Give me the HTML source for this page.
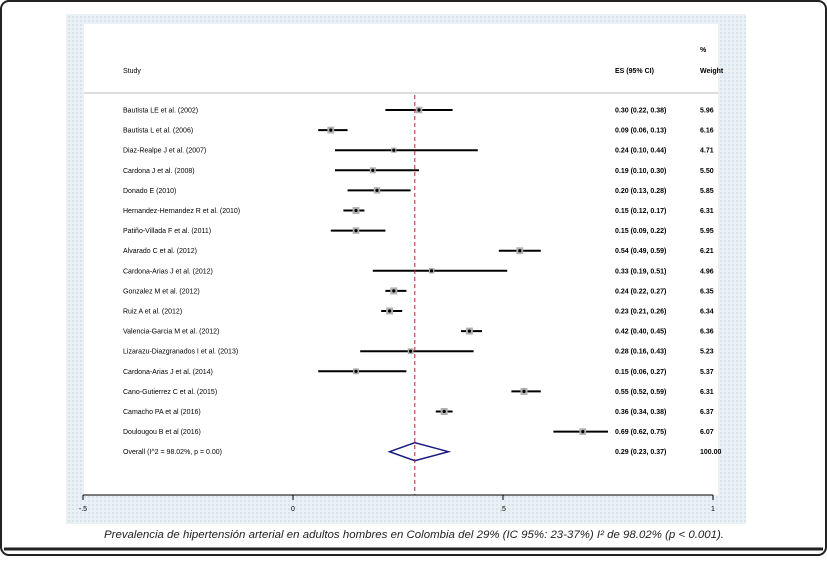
<!DOCTYPE html>
<html><head><meta charset="utf-8"><style>
body{margin:0;width:827px;height:556px;background:#fff;overflow:hidden;font-family:"Liberation Sans",sans-serif}
svg text{font-family:"Liberation Sans",sans-serif}
</style></head><body>
<svg id="chart" width="827" height="556">
<defs><pattern id="dots" width="4" height="4" patternUnits="userSpaceOnUse"><rect width="4" height="4" fill="#eaf1f5"/><rect width="2" height="2" fill="#d8e4ec"/></pattern></defs>
<rect x="1" y="1" width="825" height="554" rx="8" fill="#fff" stroke="#222" stroke-width="2"/>
<rect x="66" y="14" width="680" height="510" fill="url(#dots)"/>
<rect x="84" y="24" width="634" height="471" fill="#fff"/>
<line x1="84" y1="93" x2="718" y2="93" stroke="#bbb" stroke-width="1"/>
<text x="123" y="73" font-size="7">Study</text>
<text x="615" y="73" font-size="7" font-weight="bold">ES (95% CI)</text>
<text x="700" y="52" font-size="7" font-weight="bold">%</text>
<text x="700" y="73" font-size="7" font-weight="bold">Weight</text>
<g id="rows"></g>
<text x="414" y="538" font-size="11" font-style="italic" fill="#222" text-anchor="middle" textLength="620" lengthAdjust="spacingAndGlyphs">Prevalencia de hipertensión arterial en adultos hombres en Colombia del 29% (IC 95%: 23-37%) I² de 98.02% (p &lt; 0.001).</text>
<line x1="4" y1="549" x2="823" y2="549" stroke="#222" stroke-width="3"/>
</svg>
<script>
const studies=["Bautista LE et al. (2002)","Bautista L et al. (2006)","Diaz-Realpe J et al. (2007)","Cardona J et al.  (2008)","Donado E (2010)","Hernandez-Hernandez R et al. (2010)","Patiño-Villada F et al. (2011)","Alvarado C et al. (2012)","Cardona-Arias J et al. (2012)","Gonzalez M et al. (2012)","Ruiz A et al. (2012)","Valencia-Garcia M et al. (2012)","Lizarazu-Diazgranados I et al. (2013)","Cardona-Arias J et al. (2014)","Cano-Gutierrez C et al. (2015)","Camacho PA et al (2016)","Doulougou B et al (2016)"];
const es=[0.30,0.09,0.24,0.19,0.20,0.15,0.15,0.54,0.33,0.24,0.23,0.42,0.28,0.15,0.55,0.36,0.69];
const lo=[0.22,0.06,0.10,0.10,0.13,0.12,0.09,0.49,0.19,0.22,0.21,0.40,0.16,0.06,0.52,0.34,0.62];
const hi=[0.38,0.13,0.44,0.30,0.28,0.17,0.22,0.59,0.51,0.27,0.26,0.45,0.43,0.27,0.59,0.38,0.75];
const weights=[5.96,6.16,4.71,5.50,5.85,6.31,5.95,6.21,4.96,6.35,6.34,6.36,5.23,5.37,6.31,6.37,6.07];
const overall=[0.29,0.23,0.37];
const overallWeight=100.00;
const ticks=[-0.5,0,0.5,1];
const tickLabels=["-.5","0",".5","1"];
const NS="http://www.w3.org/2000/svg";
const x=v=>293+420*v;
const y=i=>110+20.1*i;
const g=document.getElementById('rows');
function mk(t,a,txt){const e=document.createElementNS(NS,t);for(const k in a)e.setAttribute(k,a[k]);if(txt!==undefined)e.textContent=txt;g.appendChild(e);return e;}
const fmt=v=>v.toFixed(2);
studies.forEach((s,i)=>{
 let e=mk('text',{x:123,y:y(i)+2.5,'font-size':7},s);
 
 e=mk('line',{x1:x(lo[i]),x2:x(hi[i]),y1:y(i),y2:y(i),stroke:'#000','stroke-width':2});
 
 const sz=weights[i]*1.1;
 e=mk('rect',{x:x(es[i])-sz/2,y:y(i)-sz/2,width:sz,height:sz,fill:'#b0b0b0'});
 
 e=mk('circle',{cx:x(es[i]),cy:y(i),r:1.6,fill:'#000'});
 
 e=mk('text',{x:615,y:y(i)+2.5,'font-size':7,'font-weight':'bold'},fmt(es[i])+' ('+fmt(lo[i])+', '+fmt(hi[i])+')');
 
 e=mk('text',{x:700,y:y(i)+2.5,'font-size':7,'font-weight':'bold'},fmt(weights[i]));
 
});
const oy=y(studies.length);
let e=mk('text',{x:123,y:oy+2.5,'font-size':7},'Overall  (I^2 = 98.02%, p = 0.00)');

e=mk('polygon',{points:`${x(overall[1])},${oy} ${x(overall[0])},${oy-9} ${x(overall[2])},${oy} ${x(overall[0])},${oy+9}`,fill:'none',stroke:'#1a1a80','stroke-width':1.5});

e=mk('text',{x:615,y:oy+2.5,'font-size':7,'font-weight':'bold'},fmt(overall[0])+' ('+fmt(overall[1])+', '+fmt(overall[2])+')');

e=mk('text',{x:700,y:oy+2.5,'font-size':7,'font-weight':'bold'},overallWeight.toFixed(2));

e=mk('line',{x1:x(overall[0]),x2:x(overall[0]),y1:95,y2:495,stroke:'#a52a2a','stroke-width':1,'stroke-dasharray':'4,3'});

e=mk('line',{x1:x(-0.5),x2:x(1),y1:495,y2:495,stroke:'#000','stroke-width':1});

ticks.forEach((t,i)=>{
 let e=mk('line',{x1:x(t),x2:x(t),y1:495,y2:500,stroke:'#000'});
 
 e=mk('text',{x:x(t),y:511,'font-size':7,'text-anchor':'middle'},tickLabels[i]);
 
});
</script>
</body></html>
